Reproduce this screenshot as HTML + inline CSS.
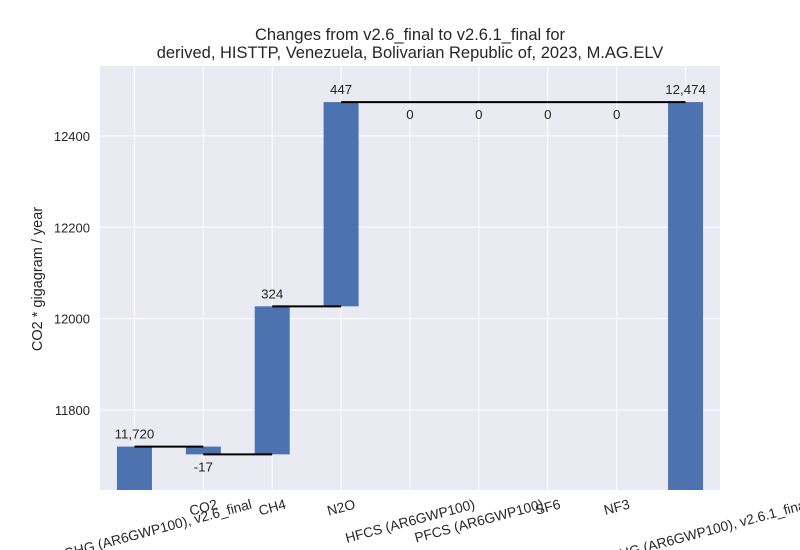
<!DOCTYPE html>
<html><head><meta charset="utf-8"><style>
body{margin:0;background:#fff}
svg{display:block;font-family:"Liberation Sans",sans-serif}
</style></head><body>
<svg id="c" width="800" height="550">
<rect x="100" y="66" width="620" height="424" fill="#eaeaf2"/>
<g id="grid"></g><g id="bars"></g><g id="lines"></g><g id="vals"></g><g id="ticks"></g>
<text x="410" y="40" text-anchor="middle" font-size="16.5" fill="#262626">Changes from v2.6_final to v2.6.1_final for</text>
<text x="410" y="58" text-anchor="middle" font-size="16.5" fill="#262626">derived, HISTTP, Venezuela, Bolivarian Republic of, 2023, M.AG.ELV</text>
<text transform="translate(42,279) rotate(-90)" text-anchor="middle" font-size="14.5" fill="#262626">CO2 * gigagram / year</text>
</svg>
<script>
const categories=["KYOTOGHG (AR6GWP100), v2.6_final","CO2","CH4","N2O","HFCS (AR6GWP100)","PFCS (AR6GWP100)","SF6","NF3","KYOTOGHG (AR6GWP100), v2.6.1_final"];
const changes=[11720,-17,324,447,0,0,0,0,12474];
const valueLabels=["11,720","-17","324","447","0","0","0","0","12,474"];
const yTicks=[11800,12000,12200,12400];
const NS="http://www.w3.org/2000/svg";
const x0=100,x1=720,yTop=66,yBot=490,yMin=11625,yMax=12553;
const step=(x1-x0)/categories.length;
const X=i=>x0+step*(i+0.5);
const Y=v=>yBot-(v-yMin)/(yMax-yMin)*(yBot-yTop);
function mk(tag,attrs,parent,txt){const e=document.createElementNS(NS,tag);for(const k in attrs)e.setAttribute(k,attrs[k]);if(txt!==undefined)e.textContent=txt;document.getElementById(parent).appendChild(e);return e;}
yTicks.forEach(t=>{
 const g=mk('line',{x1:x0,x2:x1,y1:Y(t),y2:Y(t),stroke:'#fff','stroke-width':1},'grid');
 
 
 const l=mk('text',{x:x0-10,y:Y(t)+5,'text-anchor':'end','font-size':13,fill:'#262626'},'ticks',String(t));
 
 
});
categories.forEach((c,i)=>{
 const g=mk('line',{x1:X(i),x2:X(i),y1:yTop,y2:yBot,stroke:'#fff','stroke-width':1},'grid');
 
 
});
let cum=0;const n=categories.length;
categories.forEach((c,i)=>{
 let lo,hi,level;
 if(i===0){lo=yMin;hi=changes[0];cum=changes[0];level=cum;}
 else if(i===n-1){lo=yMin;hi=changes[i];level=changes[i];}
 else{const prev=cum;cum+=changes[i];lo=Math.min(prev,cum);hi=Math.max(prev,cum);level=cum;}
 if(hi>lo){
  const r=mk('rect',{x:X(i)-17.5,y:Y(hi),width:35,height:Y(lo)-Y(hi),fill:'#4c72b0'},'bars');
  
  
 }
 if(i<n-1){
  const ln=mk('line',{x1:X(i),x2:X(i+1),y1:Y(level),y2:Y(level),stroke:'#000','stroke-width':2},'lines');
  
  
 }
 const neg=(i>0&&i<n-1&&changes[i]<=0);
 const ty=neg?Y(level)+17:Y(hi)-8;
 const t=mk('text',{x:X(i),y:ty,'text-anchor':'middle','font-size':13.3,fill:'#262626'},'vals',valueLabels[i]);
 
 
 const tl=mk('text',{'text-anchor':'middle','font-size':13.8,fill:'#262626'},'ticks',c);
 
 
 const w=tl.getComputedTextLength(),s=Math.sin(Math.PI/12),co=Math.cos(Math.PI/12);
 const cy=497+(w*s+13.8*co)/2;
 tl.setAttribute('transform','translate('+X(i)+','+cy+') rotate(-15)');
 tl.setAttribute('y',4.8);
});
</script>
</body></html>
